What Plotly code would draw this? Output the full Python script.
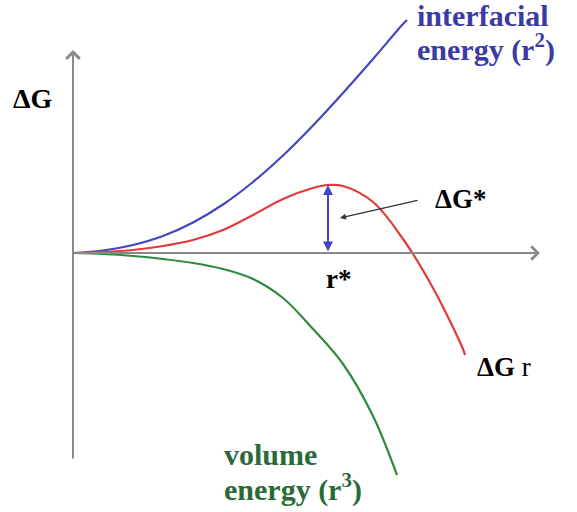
import plotly.graph_objects as go

# Data in arbitrary units (r, ΔG)
blue_r = [0, 3, 6, 9, 12, 15, 18, 21, 24, 27, 30, 33, 33.4]
blue_g = [0, 0.25, 0.8, 1.7, 3.05, 4.85, 7.1, 9.75, 12.75, 16.0, 19.4, 22.9, 23.3]

red_r = [0, 3, 6, 9, 12, 15, 18, 21, 24, 25.5, 27, 30, 33, 36, 39, 39.2]
red_g = [0, 0.1, 0.3, 0.7, 1.3, 2.3, 3.8, 5.4, 6.5, 6.8, 6.7, 5.1, 1.4, -3.5, -9.6, -10.2]

green_r = [0, 3, 6, 9, 12, 15, 18, 21, 24, 27, 30, 32.4]
green_g = [0, -0.1, -0.3, -0.6, -1.0, -1.6, -2.6, -4.5, -7.6, -11.1, -16.3, -22.2]

r_star = 25.5
dg_star = 6.8

GRAY = "#8a8a8a"
BLUE_LINE = "#4545c2"
RED_LINE = "#e23a3a"
GREEN_LINE = "#2f8a3c"
BLUE_TEXT = "#3b3ba3"
GREEN_TEXT = "#2a6a38"
FONT = "Liberation Serif"

fig = go.Figure()
fig.add_trace(go.Scatter(x=blue_r, y=blue_g, mode="lines",
                         line=dict(color=BLUE_LINE, width=2.2, shape="spline"),
                         hoverinfo="skip"))
fig.add_trace(go.Scatter(x=green_r, y=green_g, mode="lines",
                         line=dict(color=GREEN_LINE, width=2.2, shape="spline"),
                         hoverinfo="skip"))
fig.add_trace(go.Scatter(x=red_r, y=red_g, mode="lines",
                         line=dict(color=RED_LINE, width=2.2, shape="spline"),
                         hoverinfo="skip"))

ann = []
# axes with arrows
ann.append(dict(x=0, y=20.3, ax=0, ay=-20.7, xref="x", yref="y", axref="x", ayref="y",
                showarrow=True, arrowhead=4, arrowsize=1.3, arrowwidth=2, arrowcolor=GRAY, text=""))
ann.append(dict(x=46.7, y=0, ax=0, ay=0, xref="x", yref="y", axref="x", ayref="y",
                showarrow=True, arrowhead=4, arrowsize=1.3, arrowwidth=2, arrowcolor=GRAY, text=""))
# ΔG* double arrow
ann.append(dict(x=r_star, y=dg_star, ax=r_star, ay=0, xref="x", yref="y", axref="x", ayref="y",
                showarrow=True, arrowhead=2, startarrowhead=2, arrowside="end+start",
                arrowsize=1, arrowwidth=2, arrowcolor=BLUE_LINE, text=""))
# pointer arrow
ann.append(dict(x=26.7, y=3.5, ax=34.6, ay=5.3, xref="x", yref="y", axref="x", ayref="y",
                showarrow=True, arrowhead=2, arrowsize=1, arrowwidth=1.2, arrowcolor="#333333", text=""))

def label(x, y, text, color="black", size=26, xanchor="center"):
    ann.append(dict(x=x, y=y, xref="x", yref="y", text=text, showarrow=False,
                    xanchor=xanchor, yanchor="middle", align="left",
                    font=dict(family=FONT, size=size, color=color)))

label(-4.0, 15.5, "<b>ΔG</b>", size=28)
label(34.2, 23.8, "<b>interfacial</b>", color=BLUE_TEXT, size=30, xanchor="left")
label(34.2, 20.6, "<b>energy (r<sup>2</sup>)</b>", color=BLUE_TEXT, size=30, xanchor="left")
label(38.7, 5.4, "<b>ΔG*</b>", size=27)
label(26.5, -2.6, "<b>r*</b>", size=27)
label(43.1, -11.4, "<b>ΔG</b> r", size=27)
label(14.9, -20.1, "<b>volume</b>", color=GREEN_TEXT, size=30, xanchor="left")
label(14.9, -23.4, "<b>energy (r<sup>3</sup>)</b>", color=GREEN_TEXT, size=30, xanchor="left")

fig.update_layout(
    width=577, height=512,
    margin=dict(l=0, r=0, t=0, b=0),
    paper_bgcolor="white", plot_bgcolor="white",
    showlegend=False,
    annotations=ann,
    xaxis=dict(range=[-7.3, 50.4], visible=False, fixedrange=True),
    yaxis=dict(range=[-25.9, 25.3], visible=False, fixedrange=True),
)

# remove the default page margin so the figure fills the window exactly
fig.write_html("out.html", config={"displayModeBar": False},
               post_script="document.body.style.margin='0';document.body.style.overflow='hidden';")
